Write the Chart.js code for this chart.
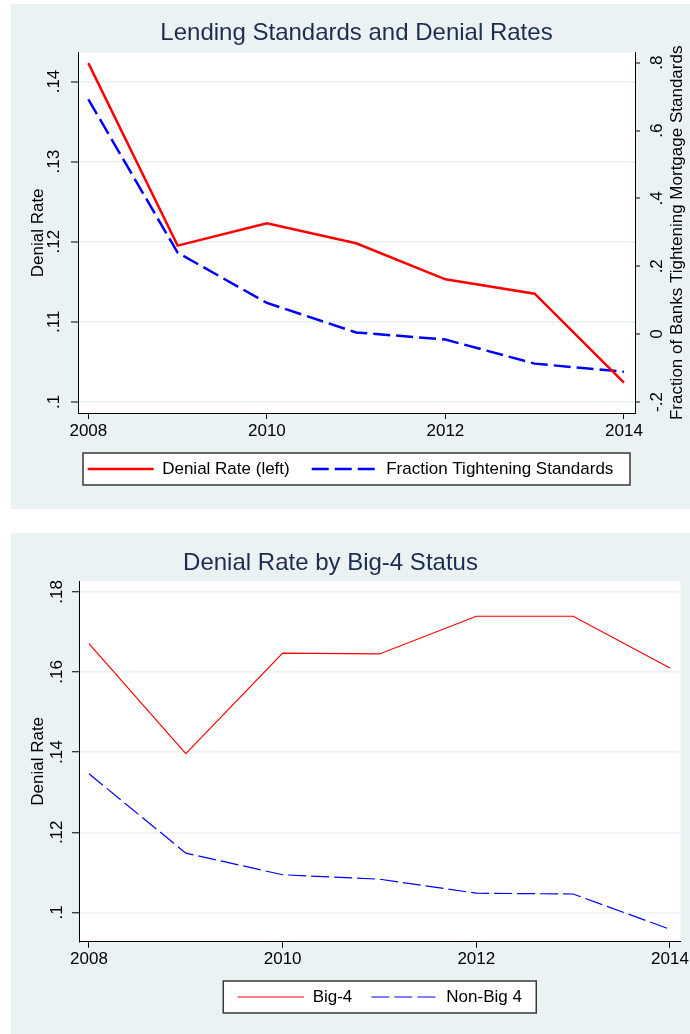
<!DOCTYPE html>
<html>
<head>
<meta charset="utf-8">
<script src="https://cdn.jsdelivr.net/npm/chart.js@4.4.1/dist/chart.umd.min.js"></script>
<style>
  html, body { margin: 0; padding: 0; background: #fff; width: 690px; height: 1034px; overflow: hidden; }
  .panel { position: absolute; left: 11px; width: 679px; background: #eaf2f3; }
  #p1 { top: 4px; height: 505px; }
  #p2 { top: 533px; height: 501px; }
  canvas { display: block; }
</style>
</head>
<body>
<div class="panel" id="p1"><canvas id="c1" width="679" height="505"></canvas></div>
<div class="panel" id="p2"><canvas id="c2" width="679" height="501"></canvas></div>
<script>
// values
const years = [2008, 2009, 2010, 2011, 2012, 2013, 2014];
const denialRate = [0.1423, 0.1195, 0.1223, 0.1198, 0.1153, 0.1135, 0.1024];
const fractionTightening = [0.692, 0.240, 0.092, 0.005, -0.016, -0.087, -0.111];
const big4 = [0.1671, 0.1396, 0.1647, 0.1645, 0.1739, 0.1739, 0.1610];
const nonBig4 = [0.1346, 0.1148, 0.1094, 0.1083, 0.1048, 0.1046, 0.0958];

// tick labels
const yearTicks = [2008, 2010, 2012, 2014];
const denialTicksTop = [0.10, 0.11, 0.12, 0.13, 0.14];
const fractionTicks = [-0.2, 0, 0.2, 0.4, 0.6, 0.8];
const denialTicksBottom = [0.10, 0.12, 0.14, 0.16, 0.18];

const FONT = '"Liberation Sans", Arial, Helvetica, sans-serif';
Chart.defaults.font.family = FONT;
Chart.defaults.font.size = 17;
Chart.defaults.color = '#000';

const pts = ys => years.map((x, i) => ({ x: x, y: ys[i] }));
const setTicks = list => scale => { scale.ticks = list.map(v => ({ value: v })); };
// Stata style: .14, -.2, 0
const stataNum = v => String(Math.round(v * 100) / 100).replace('0.', '.');

// background of plot region, legend frame, titles
const stataPanel = {
  id: 'stataPanel',
  beforeDraw(chart, args, opts) {
    const { ctx, chartArea: a } = chart;
    ctx.save();
    ctx.fillStyle = '#fff';
    ctx.fillRect(a.left, a.top, a.right - a.left, a.bottom - a.top);

    const hb = chart.legend.legendHitBoxes;
    if (hb && hb.length) {
      const cy = hb[0].top + hb[0].height / 2;
      const cx = (a.left + a.right) / 2;
      const w = opts.legendWidth;
      ctx.fillRect(cx - w / 2, cy - 16, w, 32);
      ctx.strokeStyle = '#3a3a3a';
      ctx.lineWidth = 1.5;
      ctx.strokeRect(cx - w / 2, cy - 16, w, 32);
    }

    ctx.fillStyle = '#1e2c50';
    ctx.font = '24px ' + FONT;
    ctx.textAlign = 'center';
    ctx.textBaseline = 'middle';
    ctx.fillText(opts.title, opts.titleX, opts.titleY);
    ctx.restore();
  },
  afterDraw(chart, args, opts) {
    if (!opts.rightTitle) return;
    const { ctx, chartArea: a } = chart;
    const s = chart.scales.yR;
    ctx.save();
    ctx.translate(s.right - 13, (a.top + a.bottom) / 2);
    ctx.rotate(-Math.PI / 2);
    ctx.fillStyle = '#000';
    ctx.font = '17px ' + FONT;
    ctx.textAlign = 'center';
    ctx.textBaseline = 'middle';
    ctx.fillText(opts.rightTitle, 0, 0);
    ctx.restore();
  }
};

function yAxis(opts) {
  return {
    type: 'linear',
    position: opts.position,
    min: opts.min,
    max: opts.max,
    afterBuildTicks: setTicks(opts.ticks),
    afterFit: s => { s.width = opts.width; },
    grid: {
      drawOnChartArea: opts.grid,
      color: '#eaf2f3',
      lineWidth: opts.gridWidth || 2,
      tickLength: opts.tickLength,
      tickColor: '#000',
      tickWidth: 1
    },
    border: { display: true, color: '#000', width: 1 },
    ticks: {
      color: '#000',
      padding: opts.pad,
      minRotation: 90,
      maxRotation: 90,
      crossAlign: 'center',
      autoSkip: false,
      callback: v => stataNum(v)
    },
    title: opts.title ? { display: true, text: opts.title, color: '#000', font: { size: 17 }, padding: { top: 17, bottom: 0 } } : { display: false }
  };
}

function xAxis(opts) {
  return {
    type: 'linear',
    min: opts.min,
    max: opts.max,
    afterBuildTicks: setTicks(yearTicks),
    afterFit: s => { s.height = opts.height; },
    grid: { drawOnChartArea: false, tickLength: 6, tickColor: '#000', tickWidth: 1 },
    border: { display: true, color: '#000', width: 1 },
    ticks: { color: '#000', padding: opts.pad, maxRotation: 0, autoSkip: false, callback: v => String(v) }
  };
}

// line keys: a zero-height box, so the dataset's dash shows in the key
function legendOpts(gap, fullSize, keyWidth) {
  return {
    position: 'bottom',
    fullSize: fullSize,
    labels: {
      boxWidth: keyWidth,
      boxHeight: 0,
      padding: gap,
      color: '#000',
      font: { size: 17 }
    }
  };
}

// Lending Standards and Denial Rates
new Chart(document.getElementById('c1'), {
  type: 'line',
  data: {
    datasets: [
      { label: 'Denial Rate (left)', data: pts(denialRate), yAxisID: 'y',
        borderColor: '#ff0000', backgroundColor: '#ff0000', borderWidth: 2.5, pointRadius: 0 },
      { label: 'Fraction Tightening Standards', data: pts(fractionTightening), yAxisID: 'yR',
        borderColor: '#0000ff', backgroundColor: '#0000ff', borderWidth: 2.5, borderDash: [17, 6], pointRadius: 0 }
    ]
  },
  options: {
    responsive: false,
    animation: false,
    events: [],
    layout: { padding: { top: 48.7, left: 0, right: 0, bottom: 21.5 } },
    scales: {
      x: xAxis({ min: 2007.884, max: 2014.124, height: 25.5, pad: 2 }),
      y: yAxis({ position: 'left', min: 0.0986, max: 0.1436, ticks: denialTicksTop, width: 67,
                 grid: true, tickLength: 7, pad: 5, title: 'Denial Rate' }),
      yR: yAxis({ position: 'right', min: -0.2325, max: 0.8295, ticks: fractionTicks, width: 55,
                  grid: false, tickLength: 5, pad: 7 })
    },
    plugins: {
      legend: legendOpts(22, true, 66),
      tooltip: { enabled: false },
      stataPanel: { title: 'Lending Standards and Denial Rates', titleX: 345.5, titleY: 29.5,
                    legendWidth: 547, rightTitle: 'Fraction of Banks Tightening Mortgage Standards' }
    }
  },
  plugins: [stataPanel]
});

// Denial Rate by Big-4 Status
new Chart(document.getElementById('c2'), {
  type: 'line',
  data: {
    datasets: [
      { label: 'Big-4', data: pts(big4),
        borderColor: '#ff0000', backgroundColor: '#ff0000', borderWidth: 1.2, pointRadius: 0 },
      { label: 'Non-Big 4', data: pts(nonBig4),
        borderColor: '#0000ff', backgroundColor: '#0000ff', borderWidth: 1.2, borderDash: [18, 5], pointRadius: 0 }
    ]
  },
  options: {
    responsive: false,
    animation: false,
    events: [],
    layout: { padding: { top: 48, left: 0, right: 6, bottom: 18.5 } },
    scales: {
      x: xAxis({ min: 2007.897, max: 2014.109, height: 27.8, pad: 1 }),
      y: yAxis({ position: 'left', min: 0.0927, max: 0.1827, ticks: denialTicksBottom, width: 68,
                 grid: true, gridWidth: 1.5, tickLength: 7, pad: 3, title: 'Denial Rate' })
    },
    plugins: {
      legend: legendOpts(19, false, 66.5),
      tooltip: { enabled: false },
      stataPanel: { title: 'Denial Rate by Big-4 Status', titleX: 319.5, titleY: 30, legendWidth: 313 }
    }
  },
  plugins: [stataPanel]
});
</script>
</body>
</html>
